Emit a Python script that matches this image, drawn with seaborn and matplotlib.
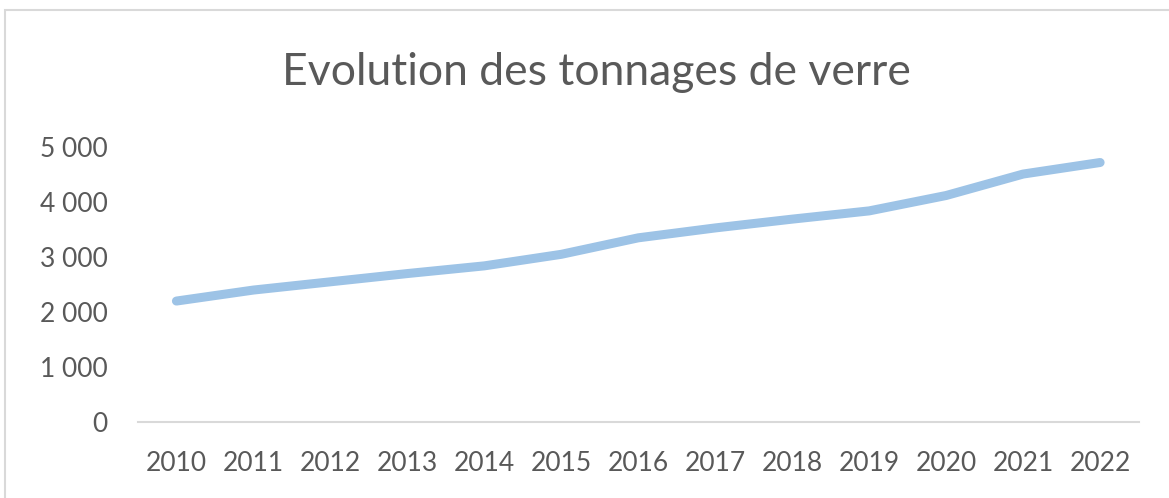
#Evolution des tonnages de verre - line chart

import seaborn as sns
import matplotlib.pyplot as plt
import matplotlib.patches as patches
import pandas as pd

#Data
years = [2010, 2011, 2012, 2013, 2014, 2015, 2016, 2017, 2018, 2019, 2020, 2021, 2022]
tonnages = [2200, 2400, 2550, 2700, 2840, 3050, 3350, 3530, 3690, 3840, 4120, 4510, 4720]
yticks = [0, 1000, 2000, 3000, 4000, 5000]
title = 'Evolution des tonnages de verre'

data = pd.DataFrame({'annee': years, 'tonnage': tonnages})

sns.set_style('white')
plt.rcParams['font.family'] = ['Lato', 'DejaVu Sans']

fig = plt.figure(figsize=(11.69, 4.98), dpi=100)
ax = fig.add_axes([0.118, 0.1526, 0.856, 0.552])

sns.lineplot(data=data, x='annee', y='tonnage', ax=ax, color='#9DC3E6',
             linewidth=6.5, solid_capstyle='round', solid_joinstyle='round')

ax.set_xlim(2009.5, 2022.5)
ax.set_ylim(0, 5000)
ax.set_xticks(years)
ax.set_xticklabels([str(y) for y in years])
ax.set_yticks(yticks)
ax.set_yticklabels([f'{v:,}'.replace(',', ' ') for v in yticks])
ax.tick_params(axis='both', length=0, labelsize=19, labelcolor='#595959')
ax.tick_params(axis='y', pad=22)
ax.tick_params(axis='x', pad=21)
ax.set_xlabel('')
ax.set_ylabel('')

for side in ['top', 'right', 'left']:
    ax.spines[side].set_visible(False)
ax.spines['bottom'].set_color('#D9D9D9')
ax.spines['bottom'].set_linewidth(1.5)

fig.text(0.51, 0.829, title, ha='center', va='baseline', fontsize=32, color='#595959')

#chart area border (Excel style)
border = patches.Rectangle((5 / 1169, -0.1), 1.2, 0.98 + 0.1, transform=fig.transFigure,
                           fill=False, edgecolor='#D9D9D9', linewidth=1.5)
fig.patches.append(border)

fig.savefig('out.png', dpi=100)
